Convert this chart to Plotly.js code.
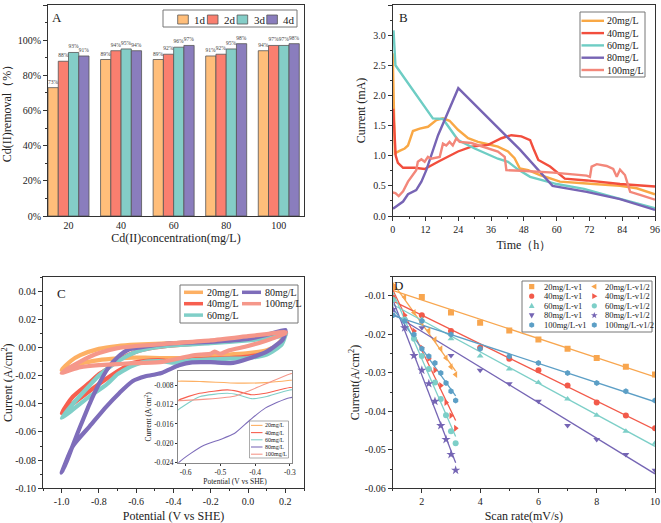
<!DOCTYPE html>
<html><head><meta charset="utf-8">
<script src="https://cdn.plot.ly/plotly-3.0.1.min.js"></script>
<style>html,body{margin:0;padding:0;background:#fff}#chart{width:661px;height:523px}</style>
</head><body><div id="chart"></div>
<script>
// ================= DATA =================
// Panel A
const concCategories = ['20','40','60','80','100'];
const dayNames = ['1d','2d','3d','4d'];
const removal1d = [73, 89, 89, 91, 94];
const removal2d = [88, 94, 92, 92, 97];
const removal3d = [93, 95, 96, 95, 97];
const removal4d = [91, 94, 97, 98, 98];

// Panel B (time h, current mA)
const concNames = ['20mg/L','40mg/L','60mg/L','80mg/L','100mg/L'];
const b20Time = [0,0.8,2.5,4.4,5.6,7.4,9.9,12.9,16,18.4,20.8,23.9,27.6,31.2,34.9,38.5,42.2,44.6,46.5,49.6,53.9,61.2,71,83.2,89.3,96];
const b20Cur  = [2.70,1.04,1.08,1.12,1.17,1.41,1.45,1.48,1.59,1.62,1.58,1.43,1.29,1.23,1.19,1.15,1.07,0.96,0.79,0.76,0.68,0.57,0.54,0.50,0.46,0.36];
const b40Time = [0.2,0.6,1.1,1.9,3.8,8,11.7,16.6,23.9,28.8,34.9,39.8,43.4,47.1,50.3,51.5,53.3,57.6,63,71,83.2,96];
const b40Cur  = [1.78,1.35,1.0,0.88,0.80,0.80,0.78,0.90,1.07,1.15,1.18,1.29,1.34,1.32,1.26,1.12,0.93,0.82,0.62,0.59,0.53,0.49];
const b60Time = [0.3,1.0,14.7,18.4,23.9,30,38.5,42.2,45.9,50.3,60,70,79.5,96];
const b60Cur  = [3.08,2.50,1.62,1.61,1.26,1.12,0.95,0.90,0.77,0.65,0.53,0.45,0.33,0.13];
const b80Time = [0.1,3.8,5.6,8.6,10.5,12.3,16.6,24,46.6,58.5,71,83.2,96];
const b80Cur  = [0.12,0.24,0.36,0.43,0.57,0.76,1.34,2.12,1.10,0.50,0.40,0.28,0.10];
const b100Time = [0,1.0,2.2,3.8,5.6,7.4,8.6,9.2,10.5,11.7,12.9,14.1,17.2,18.4,19.6,20.8,22,23.3,24.5,28.8,34.9,38.5,41,41.6,47.1,58.8,71,72.2,72.8,74.7,78.3,80.7,82,83.2,85,86.2,86.9,90.5,96];
const b100Cur  = [0.39,0.38,0.33,0.41,0.57,0.68,0.76,0.90,0.94,0.90,0.98,0.95,0.98,1.20,1.17,1.23,1.17,1.29,1.23,1.21,1.13,1.07,0.98,0.76,0.75,0.72,0.67,0.65,0.82,0.86,0.83,0.78,0.65,0.77,0.68,0.52,0.40,0.35,0.27];

// Panel C (potential V vs SHE, current A/cm2) - closed CV loops
const c20V = [-1.0,-0.95,-0.9,-0.8,-0.7,-0.6,-0.4,-0.2,0,0.1,0.2, 0.2,0.15,0.1,0,-0.1,-0.2,-0.3,-0.37,-0.45,-0.55,-0.62,-0.7,-0.8,-0.9,-1.0];
const c20I = [-0.016,-0.0095,-0.0055,-0.001,0.001,0.002,0.003,0.0042,0.0058,0.0075,0.011, 0.009,0.001,-0.002,-0.004,-0.005,-0.006,-0.007,-0.0075,-0.0076,-0.0073,-0.0072,-0.0078,-0.009,-0.0115,-0.016];
const c40V = [-1.0,-0.94,-0.85,-0.8,-0.76,-0.7,-0.6,-0.5,-0.4,-0.2,0,0.1,0.2, 0.2,0.17,0.1,0,-0.1,-0.2,-0.3,-0.37,-0.41,-0.45,-0.48,-0.56,-0.62,-0.65,-0.7,-0.8,-0.9,-0.95,-1.0];
const c40I = [-0.0465,-0.035,-0.025,-0.019,-0.0157,-0.009,-0.003,0.0,0.0015,0.0035,0.006,0.008,0.011, 0.0105,0.002,-0.004,-0.0065,-0.0075,-0.008,-0.0085,-0.0097,-0.010,-0.0093,-0.009,-0.0097,-0.0111,-0.013,-0.017,-0.026,-0.036,-0.041,-0.0465];
const c60V = [-1.0,-0.94,-0.85,-0.8,-0.7,-0.6,-0.5,-0.4,-0.2,0,0.1,0.2, 0.2,0.18,0.1,0,-0.1,-0.2,-0.3,-0.37,-0.41,-0.45,-0.48,-0.56,-0.62,-0.65,-0.7,-0.76,-0.85,-0.94,-1.0];
const c60I = [-0.050,-0.040,-0.027,-0.020,-0.010,-0.003,0.0,0.0015,0.003,0.005,0.0065,0.0085, 0.0085,0.002,-0.005,-0.0075,-0.008,-0.0085,-0.009,-0.0104,-0.0108,-0.010,-0.0097,-0.0104,-0.013,-0.015,-0.019,-0.0264,-0.0347,-0.0442,-0.050];
const c80V = [-1.0,-0.97,-0.93,-0.9,-0.85,-0.8,-0.75,-0.7,-0.64,-0.58,-0.4,-0.2,0,0.1,0.2, 0.2,0.186,0.1,0,-0.08,-0.2,-0.3,-0.37,-0.415,-0.46,-0.5,-0.55,-0.62,-0.69,-0.76,-0.85,-0.94,-1.0];
const c80I = [-0.089,-0.080,-0.066,-0.056,-0.040,-0.026,-0.0145,-0.007,-0.0015,0.0,0.003,0.004,0.006,0.009,0.0125, 0.0115,0.0056,-0.003,-0.008,-0.011,-0.0105,-0.0106,-0.0127,-0.0152,-0.018,-0.0192,-0.0205,-0.024,-0.0323,-0.042,-0.056,-0.070,-0.089];
const c100V = [-1.0,-0.9,-0.8,-0.7,-0.6,-0.4,-0.2,0,0.1,0.2, 0.2,0.1,0,-0.1,-0.15,-0.18,-0.2,-0.25,-0.3,-0.367,-0.415,-0.46,-0.56,-0.62,-0.7,-0.8,-0.9,-1.0];
const c100I = [-0.018,-0.010,-0.004,-0.0005,0.001,0.003,0.005,0.008,0.0095,0.011, 0.010,0.005,0.001,-0.002,-0.0045,-0.003,-0.0045,-0.005,-0.0057,-0.0077,-0.0091,-0.0103,-0.011,-0.0112,-0.0118,-0.0125,-0.014,-0.018];

// Panel D (scan rate mV/s, current A/cm2)
const scanRates = [1,2,3,4,5,6,7,8,9,10];
const sqrtScanRates = [1,1.41,1.73,2,2.24,2.45,2.65,2.83,3,3.16];
const d20 = [-0.0077,-0.0103,-0.0143,-0.0170,-0.0190,-0.0213,-0.0237,-0.0261,-0.0284,-0.0304];
const d40 = [-0.0105,-0.0150,-0.0191,-0.0235,-0.0263,-0.0293,-0.0333,-0.0377,-0.0411,-0.0444];
const d60 = [-0.0110,-0.0161,-0.0211,-0.0256,-0.0290,-0.0325,-0.0368,-0.0410,-0.0452,-0.0483];
const d80 = [-0.0135,-0.0183,-0.0255,-0.0293,-0.0328,-0.0374,-0.0437,-0.0473,-0.0512,-0.0553];
const d100 = [-0.0150,-0.0165,-0.0200,-0.0237,-0.0257,-0.0274,-0.0300,-0.0326,-0.0348,-0.0372];
const dNamesV1 = ['20mg/L-v1','40mg/L-v1','60mg/L-v1','80mg/L-v1','100mg/L-v1'];
const dNamesV12 = ['20mg/L-v1/2','40mg/L-v1/2','60mg/L-v1/2','80mg/L-v1/2','100mg/L-v1/2'];

// Tick labels
const cXTickVals = [-1.0,-0.8,-0.6,-0.4,-0.2,0.0,0.2];
const cXTickText = ['-1.0','-0.8','-0.6','-0.4','-0.2','0.0','0.2'];
const cYTickVals = [-0.10,-0.08,-0.06,-0.04,-0.02,0.00,0.02,0.04];
const cYTickText = ['-0.10','-0.08','-0.06','-0.04','-0.02','0.00','0.02','0.04'];
const dYTickVals = [-0.06,-0.05,-0.04,-0.03,-0.02,-0.01];
const dYTickText = ['-0.06','-0.05','-0.04','-0.03','-0.02','-0.01'];
const inXTickVals = [-0.6,-0.5,-0.4,-0.3];
const inXTickText = ['-0.6','-0.5','-0.4','-0.3'];
const inYTickVals = [-0.024,-0.020,-0.016,-0.012,-0.008];
const inYTickText = ['-0.024','-0.020','-0.016','-0.012','-0.008'];

// ================= STYLE =================
const F = '"Liberation Serif","Times New Roman",serif';
const dayColors = ['#FFBE7A','#FA7F6F','#84CDC7','#8A7DBD'];
const bColors = ['#F9A845','#F24E3D','#6ECDC4','#7764B4','#F3877A'];
const cColors = ['#FDB064','#F75F4F','#80CFC8','#7E6DBA','#F5978A'];
const dColors = ['#F8A64F','#F25A4A','#7DCFC8','#7565B4','#5C9FC6'];
const symV1 = ['square','circle','triangle-up','triangle-down','hexagon'];
const symV12 = ['triangle-left','triangle-right','circle','star','hexagon'];

const W = 661, H = 523;
const pxX = p => p / W;
const pxY = p => 1 - p / H;

function ax(extra) {
  const base = {
    showline: true, linecolor: '#333', linewidth: 1, mirror: true,
    ticks: 'outside', ticklen: 4, tickwidth: 1, tickcolor: '#333',
    showgrid: false, zeroline: false,
    tickfont: {family: F, size: 10, color: '#222'},
  };
  return Object.assign(base, extra);
}
function ttl(text, standoff, size) {
  return {text: text, standoff: standoff, font: {family: F, size: size || 12, color: '#222'}};
}
function minor(d) { return {ticks: 'outside', ticklen: 2, dtick: d, tickcolor: '#333', showgrid: false}; }

// ================= TRACES =================
const traces = [];
// A bars
[removal1d, removal2d, removal3d, removal4d].forEach((vals, i) => {
  traces.push({
    type: 'bar', x: concCategories, y: vals, name: dayNames[i], xaxis: 'x', yaxis: 'y',
    marker: {color: dayColors[i], line: {color: '#555', width: 0.8}},
    text: vals.map(v => v + '%'), textposition: 'outside', constraintext: 'none',
    textfont: {family: F, size: 5.5, color: '#444'}, cliponaxis: false, showlegend: false,
    hoverinfo: 'skip'
  });
});
// B lines
const bT = [b20Time, b40Time, b60Time, b80Time, b100Time];
const bI = [b20Cur, b40Cur, b60Cur, b80Cur, b100Cur];
bT.forEach((t, i) => {
  traces.push({type: 'scatter', mode: 'lines', x: t, y: bI[i], name: concNames[i], xaxis: 'x2', yaxis: 'y2',
    line: {color: bColors[i], width: 2.4}, showlegend: false});
});
// C loops
const cV = [c20V, c40V, c60V, c80V, c100V];
const cI = [c20I, c40I, c60I, c80I, c100I];
cV.forEach((v, i) => {
  traces.push({type: 'scatter', mode: 'lines', x: v, y: cI[i], name: concNames[i], xaxis: 'x3', yaxis: 'y3',
    line: {color: cColors[i], width: 4.2, shape: 'spline', smoothing: 0.6}, showlegend: false});
});
// D
const dAll = [d20, d40, d60, d80, d100];
function linfit(xs, ys) {
  const n = xs.length;
  const mx = xs.reduce((a, b) => a + b, 0) / n, my = ys.reduce((a, b) => a + b, 0) / n;
  let sxy = 0, sxx = 0;
  for (let k = 0; k < n; k++) { sxy += (xs[k] - mx) * (ys[k] - my); sxx += (xs[k] - mx) ** 2; }
  const b = sxy / sxx; return {b: b, a: my - b * mx};
}
dAll.forEach((ys, i) => {
  [scanRates, sqrtScanRates].forEach(xs => {
    const f = linfit(xs, ys);
    const xe = [xs[0], xs[xs.length - 1]];
    traces.push({type: 'scatter', mode: 'lines', x: xe, y: xe.map(x => f.a + f.b * x), xaxis: 'x4', yaxis: 'y4',
      line: {color: dColors[i], width: 1.3}, showlegend: false, hoverinfo: 'skip'});
  });
});
dAll.forEach((ys, i) => {
  traces.push({type: 'scatter', mode: 'markers', x: scanRates, y: ys, name: dNamesV1[i], xaxis: 'x4', yaxis: 'y4',
    marker: {color: dColors[i], symbol: symV1[i], size: 6}, showlegend: false});
  traces.push({type: 'scatter', mode: 'markers', x: sqrtScanRates, y: ys, name: dNamesV12[i], xaxis: 'x4', yaxis: 'y4',
    marker: {color: dColors[i], symbol: symV12[i], size: symV12[i] === 'star' ? 7 : 6}, showlegend: false});
});
// Inset (zoom of C)
cV.forEach((v, i) => {
  traces.push({type: 'scatter', mode: 'lines', x: v, y: cI[i], name: concNames[i], xaxis: 'x5', yaxis: 'y5',
    line: {color: cColors[i], width: 1.1, shape: 'spline', smoothing: 0.6}, showlegend: false});
});

// ================= LEGENDS (drawn) =================
const shapes = [], annotations = [];
function box(x0, y0, x1, y1) {
  shapes.push({type: 'rect', xref: 'paper', yref: 'paper', x0: pxX(x0), x1: pxX(x1), y0: pxY(y1), y1: pxY(y0),
    fillcolor: '#fff', line: {color: '#777', width: 1}});
}
function label(x, y, text, size) {
  annotations.push({xref: 'paper', yref: 'paper', x: pxX(x), y: pxY(y), xanchor: 'left', yanchor: 'middle',
    text: text, showarrow: false, borderpad: 0, font: {family: F, size: size, color: '#222'}});
}
function lineSw(x0, x1, y, color, width) {
  shapes.push({type: 'line', xref: 'paper', yref: 'paper', x0: pxX(x0), x1: pxX(x1), y0: pxY(y), y1: pxY(y),
    line: {color: color, width: width}});
}
function symPath(sym, r) {
  const pts = [];
  if (sym === 'square') return `M${-r},${-r}H${r}V${r}H${-r}Z`;
  if (sym === 'triangle-up') return `M0,${r*1.2}L${r*1.1},${-r*0.8}L${-r*1.1},${-r*0.8}Z`;
  if (sym === 'triangle-down') return `M0,${-r*1.2}L${r*1.1},${r*0.8}L${-r*1.1},${r*0.8}Z`;
  if (sym === 'triangle-left') return `M${-r*1.2},0L${r*0.8},${r*1.1}L${r*0.8},${-r*1.1}Z`;
  if (sym === 'triangle-right') return `M${r*1.2},0L${-r*0.8},${r*1.1}L${-r*0.8},${-r*1.1}Z`;
  if (sym === 'hexagon') {
    for (let k = 0; k < 6; k++) { const a = Math.PI / 6 + k * Math.PI / 3; pts.push([r * 1.1 * Math.cos(a), r * 1.1 * Math.sin(a)]); }
  }
  if (sym === 'star') {
    for (let k = 0; k < 10; k++) { const a = Math.PI / 2 + k * Math.PI / 5; const rr = k % 2 ? r * 0.55 : r * 1.35; pts.push([rr * Math.cos(a), rr * Math.sin(a)]); }
  }
  return 'M' + pts.map(p => p[0].toFixed(2) + ',' + p[1].toFixed(2)).join('L') + 'Z';
}
function markerSw(cx, cy, sym, color, r) {
  const common = {xref: 'paper', yref: 'paper', xsizemode: 'pixel', ysizemode: 'pixel',
    xanchor: pxX(cx), yanchor: pxY(cy), fillcolor: color, line: {width: 0}};
  if (sym === 'circle') shapes.push(Object.assign({type: 'circle', x0: -r, x1: r, y0: -r, y1: r}, common));
  else shapes.push(Object.assign({type: 'path', path: symPath(sym, r)}, common));
}
// A legend
box(163, 10, 297, 27);
dayNames.forEach((n, i) => {
  const x0 = 177.7 + i * 29.7;
  shapes.push({type: 'rect', xref: 'paper', yref: 'paper', x0: pxX(x0), x1: pxX(x0 + 10.6), y0: pxY(24), y1: pxY(15),
    fillcolor: dayColors[i], line: {color: '#555', width: 0.8}});
  label(x0 + 15.5, 19.5, n, 11);
});
// B legend
box(580, 12, 645, 77);
concNames.forEach((n, i) => {
  const y = 20.8 + i * 12.3;
  lineSw(581.5, 604, y, bColors[i], 2.4);
  label(605.5, y, n, 10);
});
// C legend (two columns)
box(180, 285, 298, 323);
concNames.forEach((n, i) => {
  const col = i < 3 ? 0 : 1, row = i < 3 ? i : i - 3;
  const y = 292.3 + row * 11.4;
  const sx = col ? 242 : 184;
  lineSw(sx, sx + 19, y, cColors[i], 3.5);
  label(sx + 22, y, n, 10);
});
// D legend (two columns)
box(522, 281, 652, 332);
dNamesV1.forEach((n, i) => {
  const y = 286.6 + i * 9.6;
  markerSw(531.7, y, symV1[i], dColors[i], 2.6);
  label(543, y, n, 8.5);
  markerSw(594.3, y, symV12[i], dColors[i], 2.6);
  label(603.5, y, dNamesV12[i], 8.5);
});
// Inset legend
shapes.push({type: 'rect', xref: 'paper', yref: 'paper', x0: pxX(249.5), x1: pxX(288.5), y0: pxY(458), y1: pxY(421),
  fillcolor: '#fff', line: {color: '#888', width: 0.7}});
concNames.forEach((n, i) => {
  const y = 425.4 + i * 7.2;
  lineSw(251, 262.5, y, cColors[i], 1.1);
  label(264, y, n, 6);
});
// Panel letters
label(50.5, 17.5, 'A', 13);
label(397.5, 17.5, 'B', 13);
label(56, 293.5, 'C', 13);
label(393, 285, 'D', 13);

// ================= LAYOUT =================
const layout = {
  width: W, height: H, margin: {l: 0, r: 0, t: 0, b: 0},
  paper_bgcolor: '#fff', plot_bgcolor: '#fff', showlegend: false,
  barmode: 'group', bargap: 0.22, bargroupgap: 0,
  font: {family: F, color: '#222'},
  xaxis: ax({domain: [pxX(48), pxX(304)], anchor: 'y', type: 'category', range: [-0.39, 4.48], ticks: '',
    title: ttl('Cd(II)concentration(mg/L)', 3)}),
  yaxis: ax({domain: [pxY(216), pxY(5)], anchor: 'x', range: [0, 120], dtick: 20, ticksuffix: '%',
    minor: minor(10), title: ttl('Cd(II)removal（%）', 8)}),
  xaxis2: ax({domain: [pxX(392.7), pxX(655)], anchor: 'y2', range: [0, 96], dtick: 12, minor: minor(6),
    title: ttl('Time（h）', 6)}),
  yaxis2: ax({domain: [pxY(216), pxY(5)], anchor: 'x2', range: [0, 3.5], dtick: 0.5, tickformat: '.1f',
    minor: minor(0.25), title: ttl('Current (mA)', 5)}),
  xaxis3: ax({domain: [pxX(43), pxX(304)], anchor: 'y3', range: [-1.1, 0.3], tickmode: 'array',
    tickvals: cXTickVals, ticktext: cXTickText, minor: minor(0.1), title: ttl('Potential (V vs SHE)', 11, 12)}),
  yaxis3: ax({domain: [pxY(488.3), pxY(277)], anchor: 'x3', range: [-0.10, 0.05], tickmode: 'array',
    tickvals: cYTickVals, ticktext: cYTickText, minor: minor(0.01), title: ttl('Current (A/cm<sup>2</sup>)', 4)}),
  xaxis4: ax({domain: [pxX(392.7), pxX(655)], anchor: 'y4', range: [1, 10], tickvals: [2,4,6,8,10],
    tickmode: 'array', minor: minor(1), title: ttl('Scan rate(mV/s)', 10)}),
  yaxis4: ax({domain: [pxY(488.3), pxY(276.7)], anchor: 'x4', range: [-0.06, -0.005], tickmode: 'array',
    tickvals: dYTickVals, ticktext: dYTickText, minor: minor(0.005), title: ttl('Current(A/cm<sup>2</sup>)', 2)}),
  xaxis5: ax({domain: [pxX(178), pxX(292)], anchor: 'y5', range: [-0.622, -0.294], tickmode: 'array',
    tickvals: inXTickVals, ticktext: inXTickText, ticklen: 2, linecolor: '#888',
    tickfont: {family: F, size: 7.5, color: '#222'}, title: ttl('Potential (V vs SHE)', 1, 7.5)}),
  yaxis5: ax({domain: [pxY(462.7), pxY(371)], anchor: 'x5', range: [-0.024, -0.0051], tickmode: 'array',
    tickvals: inYTickVals, ticktext: inYTickText, ticklen: 2, linecolor: '#888',
    tickfont: {family: F, size: 7.5, color: '#222'}, title: ttl('Current (A/cm<sup>2</sup>)', 1, 7.5)}),
  shapes: shapes,
  annotations: annotations
};

Plotly.newPlot('chart', traces, layout, {staticPlot: true, displayModeBar: false});
</script>
</body></html>
